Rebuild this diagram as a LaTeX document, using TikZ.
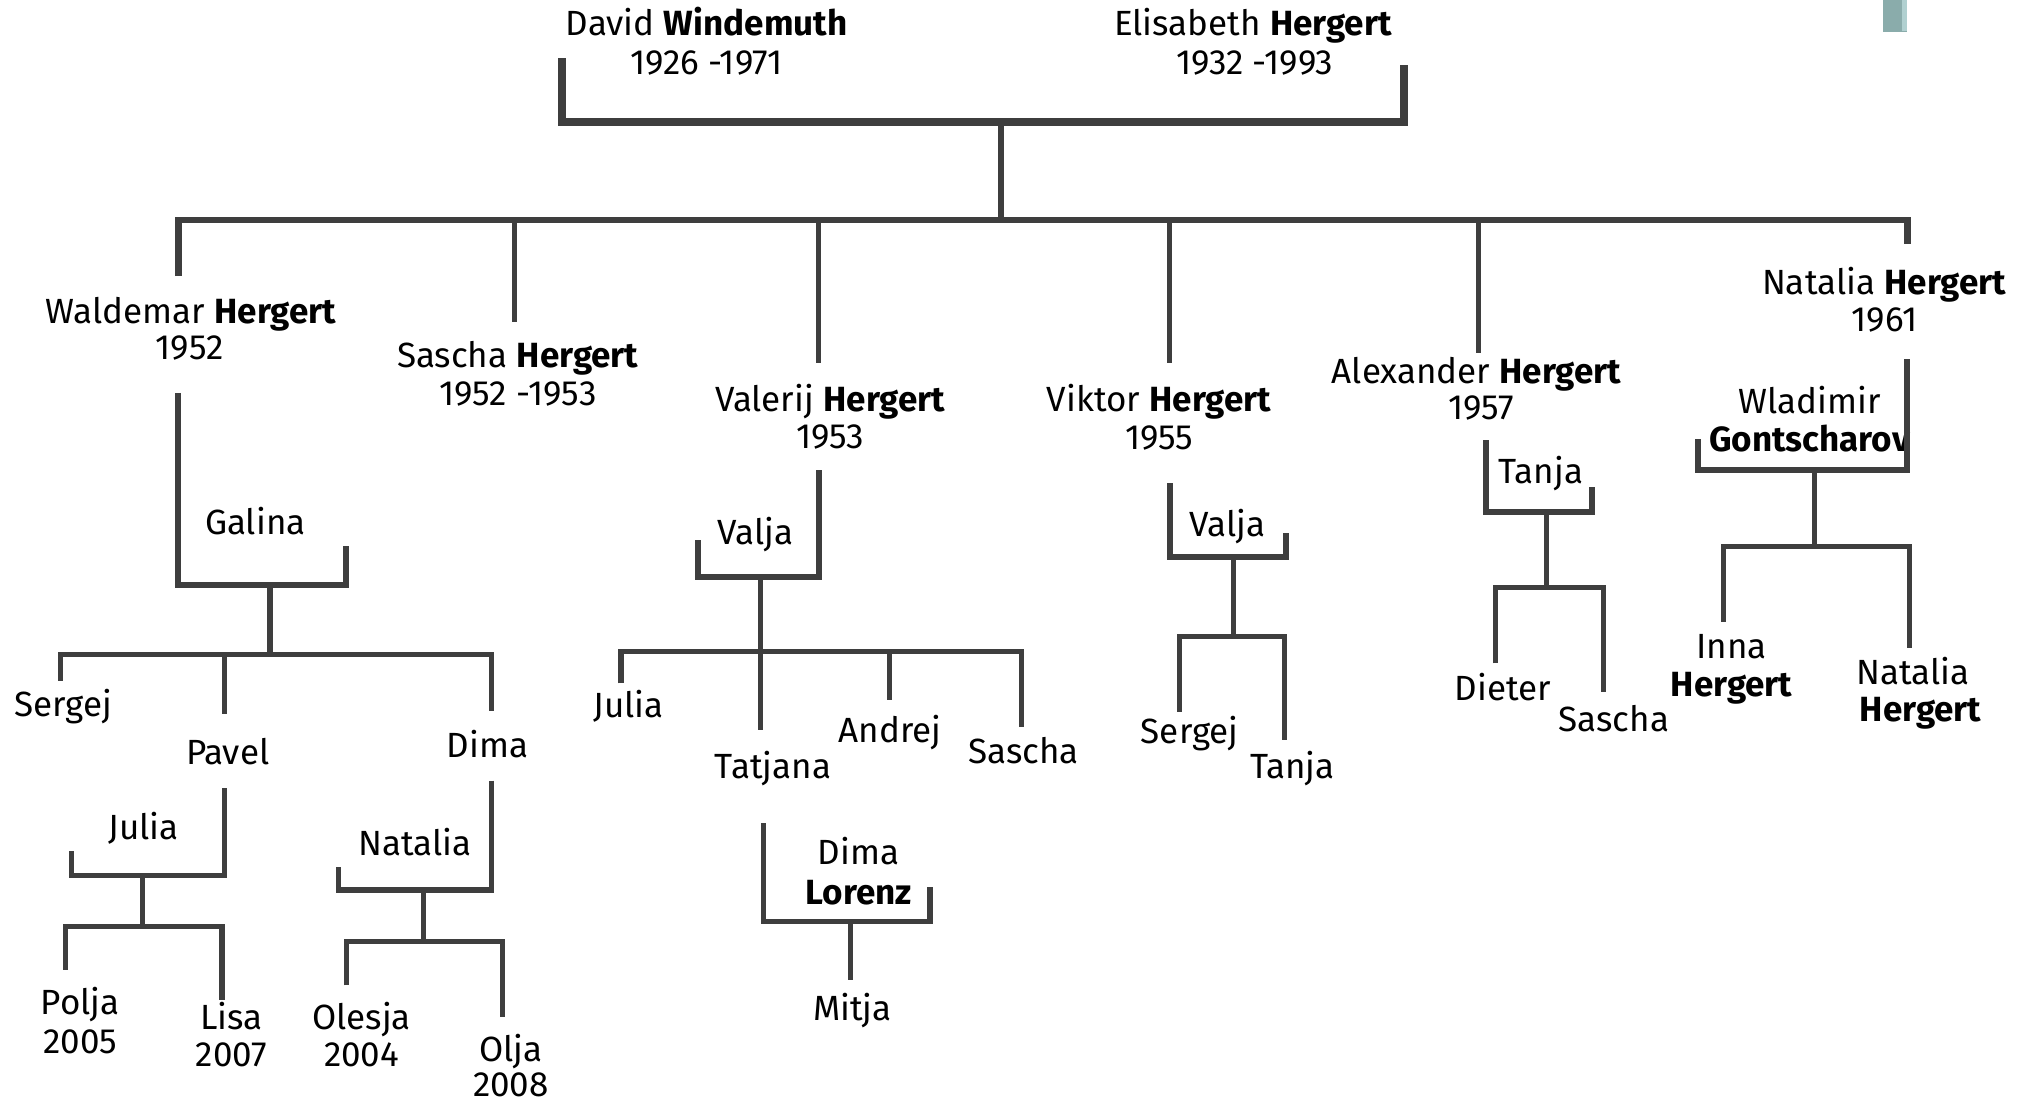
\documentclass[tikz,border=0pt]{standalone}
\usepackage{fontspec}
\setmainfont{Fira Sans}
\definecolor{linec}{RGB}{62,62,62}
\definecolor{tealbox}{RGB}{138,172,171}
\definecolor{tealedge}{RGB}{176,208,208}
\newcommand\hgfont{\fontsize{27}{32}\selectfont}
\begin{document}
\begin{tikzpicture}[x=1pt,y=-1pt,
  lbl/.style={font=\hgfont, anchor=base, inner sep=0pt},
  couple/.style={draw=linec, line width=4.6pt, line join=miter},
  topcouple/.style={draw=linec, line width=6.4pt, line join=miter},
  mainbar/.style={draw=linec, line width=5pt, line join=miter},
  kid/.style={draw=linec, line width=4pt, line join=miter}]
\useasboundingbox (0,0) rectangle (1568,851);

% small box top right
\fill[tealbox] (1452.5,0) rectangle (1471,24.9);
\fill[tealedge] (1467,0) rectangle (1471,24);

% ---------- texts ----------
\node[lbl] (david1) at (545,27) {David \textbf{Windemuth}};
\node[lbl] (david2) at (545,57.8) {1926 -1971};
\node[lbl] (elis1) at (966.5,27) {Elisabeth \textbf{Hergert}};
\node[lbl] (elis2) at (967.7,57.8) {1932 -1993};

\node[lbl] (wald1) at (147.4,249.4) {Waldemar \textbf{Hergert}};
\node[lbl] (wald2) at (146.3,277.6) {1952};
\node[lbl] (sas1) at (399.4,283.6) {Sascha \textbf{Hergert}};
\node[lbl] (sas2) at (399.4,312.4) {1952 -1953};
\node[lbl] (val1) at (640.3,317.5) {Valerij \textbf{Hergert}};
\node[lbl] (val2) at (640.3,345.8) {1953};
\node[lbl] (vik1) at (894.1,317.5) {Viktor \textbf{Hergert}};
\node[lbl] (vik2) at (894.1,346.3) {1955};
\node[lbl] (alex1) at (1138.9,295.6) {Alexander \textbf{Hergert}};
\node[lbl] (alex2) at (1142.5,323.9) {1957};
\node[lbl] (nat1) at (1453.3,227.5) {Natalia \textbf{Hergert}};
\node[lbl] (nat2) at (1453.3,255.8) {1961};

\node[lbl] (galina) at (196.9,412.6) {Galina};
\node[lbl] (valjaA) at (582.9,420.3) {Valja};
\node[lbl] (valjaB) at (946.5,413.9) {Valja};
\node[lbl] (tanjaA) at (1188.3,372.8) {Tanja};
\node[lbl] (wlad1) at (1395.7,318.8) {Wladimir};
\node[lbl] (wlad2) at (1395.7,348.4) {\textbf{Gontscharov}};

\node[lbl] (sergejA) at (48.9,552.7) {Sergej};
\node[lbl] (pavel) at (175.6,590) {Pavel};
\node[lbl] (dimaA) at (376,584.4) {Dima};
\node[lbl] (juliaA) at (110.7,647.7) {Julia};
\node[lbl] (nataliaA) at (320.2,660) {Natalia};
\node[lbl] (polja1) at (62,782.8) {Polja};
\node[lbl] (polja2) at (62,812.4) {2005};
\node[lbl] (lisa1) at (178.6,794.4) {Lisa};
\node[lbl] (lisa2) at (178.6,822.7) {2007};
\node[lbl] (olesja1) at (278.9,794.4) {Olesja};
\node[lbl] (olesja2) at (278.9,822.7) {2004};
\node[lbl] (olja1) at (394,818.8) {Olja};
\node[lbl] (olja2) at (394,845.8) {2008};

\node[lbl] (juliaB) at (484.7,553.5) {Julia};
\node[lbl] (tatjana) at (596.1,600.3) {Tatjana};
\node[lbl] (andrej) at (686.6,572.5) {Andrej};
\node[lbl] (saschaB) at (789.4,588.7) {Sascha};
\node[lbl] (dimaL1) at (662.3,667.1) {Dima};
\node[lbl] (dimaL2) at (662.3,697.5) {\textbf{Lorenz}};
\node[lbl] (mitja) at (657.4,786.7) {Mitja};

\node[lbl] (sergejB) at (917.6,573.3) {Sergej};
\node[lbl] (tanjaB) at (996.8,600.3) {Tanja};
\node[lbl] (dieter) at (1159.2,539.9) {Dieter};
\node[lbl] (saschaC) at (1244.8,564.3) {Sascha};
\node[lbl] (inna1) at (1335.6,507.7) {Inna};
\node[lbl] (inna2) at (1335.6,537.3) {\textbf{Hergert}};
\node[lbl] (natc1) at (1475.2,528.3) {Natalia};
\node[lbl] (natc2) at (1481.4,556.6) {\textbf{Hergert}};

% ---------- lines ----------
% parents
\draw[topcouple] (433.3,45) -- (433.3,94) -- (1083,94) -- (1083,50);
\draw[kid] (772,94) -- (772,169.5);
\draw[mainbar] (137.5,213) -- (137.5,169.5) -- (1471,169.5) -- (1471,188);
\draw[kid] (397,169.5) -- (397,248);
\draw[kid] (631,169.5) -- (631,280);
\draw[kid] (902,169.5) -- (902,280);
\draw[kid] (1140,169.5) -- (1140,272.5);

% Waldemar + Galina
\draw[couple] (137.5,303) -- (137.5,451) -- (267,451) -- (267,421);
\draw[kid] (208.3,451) -- (208.3,505);
\draw[kid] (46.5,525) -- (46.5,505) -- (379,505) -- (379,548);
\draw[kid] (173,505) -- (173,551);
% Pavel + Julia
\draw[kid] (173,608) -- (173,675) -- (55.2,675) -- (55.2,656);
\draw[kid] (110,675) -- (110,714.7);
\draw[kid] (50.8,748) -- (50.8,714.7) -- (171.2,714.7) -- (171.2,771);
% Dima + Natalia
\draw[kid] (379,602) -- (379,686.4) -- (261.2,686.4) -- (261.2,668.4);
\draw[kid] (326.7,686.4) -- (326.7,726.3);
\draw[kid] (267,760) -- (267,726.3) -- (387.6,726.3) -- (387.6,784);

% Valerij + Valja
\draw[couple] (631.5,362.5) -- (631.5,444.8) -- (538.6,444.8) -- (538.6,416.5);
\draw[kid] (586.5,444.8) -- (586.5,502.6);
\draw[kid] (479,527) -- (479,502.6) -- (788,502.6) -- (788,561);
\draw[kid] (586.5,502.6) -- (586.5,563);
\draw[kid] (686,502.6) -- (686,540);
% Tatjana + Dima Lorenz
\draw[kid] (588.6,635) -- (588.6,710.8) -- (717.3,710.8) -- (717.3,684);
\draw[kid] (656,710.8) -- (656,755.8);

% Viktor + Valja
\draw[couple] (902.2,372.8) -- (902.2,429.3) -- (991.5,429.3) -- (991.5,411.3);
\draw[kid] (951.5,429.3) -- (951.5,491);
\draw[kid] (910,549) -- (910,491) -- (991,491) -- (991,570.7);

% Alexander + Tanja
\draw[couple] (1146,339.4) -- (1146,394.6) -- (1228,394.6) -- (1228,375.9);
\draw[kid] (1192.6,394.6) -- (1192.6,453);
\draw[kid] (1153.6,511.6) -- (1153.6,453) -- (1237,453) -- (1237,533.4);

% Natalia + Wladimir
\draw[couple] (1470.6,277.1) -- (1470.6,362.5) -- (1309.8,362.5) -- (1309.8,338.8);
\draw[kid] (1399.5,362.5) -- (1399.5,421.4);
\draw[kid] (1329.5,479.5) -- (1329.5,421.4) -- (1472.7,421.4) -- (1472.7,500);
\end{tikzpicture}
\end{document}
